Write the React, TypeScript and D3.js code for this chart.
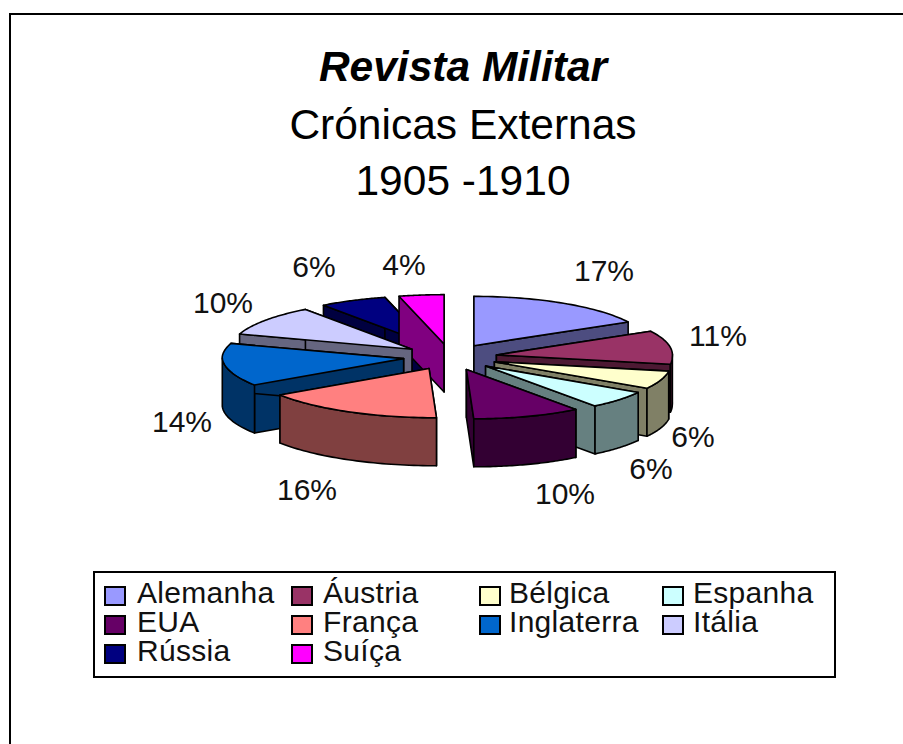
import React from "react";
import * as d3 from "d3";

const categories = ["Alemanha", "Áustria", "Bélgica", "Espanha", "EUA", "França", "Inglaterra", "Itália", "Rússia", "Suíça"];
const values = [17, 11, 6, 6, 10, 16, 14, 10, 6, 4];
const topColors = ["#9999ff", "#993366", "#ffffcc", "#ccffff", "#660066", "#ff8080", "#0066cc", "#ccccff", "#000080", "#ff00ff"];
const sideColors = ["#4d4d80", "#4d1933", "#808066", "#668080", "#330033", "#804040", "#003366", "#666680", "#000040", "#800080"];
const labels = ["17%", "11%", "6%", "6%", "10%", "16%", "14%", "10%", "6%", "4%"];
const labelX = [604, 718, 693, 651, 565, 307, 182, 223, 314, 404];
const labelY = [281, 346, 447, 479, 504, 500, 432, 313, 277, 275];
const drawOrder = [8, 9, 7, 6, 5, 0, 1, 2, 3, 4];
const titleLines = ["Revista Militar", "Crónicas Externas", "1905 -1910"];
const legendSwatchX = [105, 292, 480, 663];
const legendTextX = [137, 323, 509, 693];
const legendBaseline = [603, 632, 661];
const legendSwatchY = [587, 616, 645];

const CX = 450, CY = 357, R = 176, K = 0.28, EXPLODE = 47, DEPTH = 48, SHEAR = 0.15, LEFT_GROW = 1.03;

const pieArcs = d3.pie<number>().sort(null)(values);
const line = d3.line<[number, number]>();

type Pt = [number, number];
const project = (cx: number, cy: number, r: number, a: number): Pt => {
  const s = Math.sin(a);
  const y = cy - K * r * Math.cos(a);
  const x = cx + r * s * (s < 0 ? LEFT_GROW : 1) + Math.max(0, y - CY) * SHEAR;
  return [x, y];
};
const down = (p: Pt): Pt => [p[0], p[1] + DEPTH];

function slice(i: number) {
  const arc = pieArcs[i];
  const mid = (arc.startAngle + arc.endAngle) / 2;
  const ox = CX + EXPLODE * Math.sin(mid);
  const oy = CY - K * EXPLODE * Math.cos(mid);
  const apex: Pt = [ox + Math.max(0, oy - CY) * SHEAR, oy];
  const angs = d3.range(0, 41).map((k) => arc.startAngle + ((arc.endAngle - arc.startAngle) * k) / 40);
  const rim = angs.map((a) => project(ox, oy, R, a));
  const first = rim[0];
  const last = rim[rim.length - 1];
  const top = line([apex, ...rim]) + "Z";
  const startWall = line([apex, first, down(first), down(apex)]) + "Z";
  const endWall = line([apex, last, down(last), down(apex)]) + "Z";
  const front = rim.filter((_, k) => Math.cos(angs[k]) <= 0.02);
  const outer = front.length > 1 ? line([...front, ...front.slice().reverse().map(down)]) + "Z" : null;
  return { top, startWall, endWall, outer };
}

const stroke = { stroke: "#000", strokeWidth: 1.6, strokeLinejoin: "round" as const };

export default function App() {
  return (
    <svg width={903} height={744} style={{ position: "absolute", left: 0, top: 0, background: "#fff" }} fontFamily="'Liberation Sans', Arial, sans-serif">
      <path d="M10,744 V14 H903" fill="none" stroke="#000" strokeWidth={2} />
      <text x={463} y={81} textAnchor="middle" fontSize={42.5} fontWeight="bold" fontStyle="italic">{titleLines[0]}</text>
      <text x={463} y={139} textAnchor="middle" fontSize={42.5}>{titleLines[1]}</text>
      <text x={463} y={195} textAnchor="middle" fontSize={42.5}>{titleLines[2]}</text>
      {drawOrder.map((i) => {
        const s = slice(i);
        return (
          <g key={categories[i]}>
            <path d={s.startWall} fill={sideColors[i]} {...stroke} />
            <path d={s.endWall} fill={sideColors[i]} {...stroke} />
            {s.outer && <path d={s.outer} fill={sideColors[i]} {...stroke} />}
            <path d={s.top} fill={topColors[i]} {...stroke} />
          </g>
        );
      })}
      {labels.map((l, i) => (
        <text key={i} x={labelX[i]} y={labelY[i]} textAnchor="middle" fontSize={30} fill="#111">{l}</text>
      ))}
      <rect x={94} y={572} width={741} height={105} fill="#fff" stroke="#000" strokeWidth={2} />
      {categories.map((c, i) => {
        const col = i % 4;
        const row = Math.floor(i / 4);
        return (
          <g key={c}>
            <rect x={legendSwatchX[col]} y={legendSwatchY[row]} width={20} height={18} fill={topColors[i]} stroke="#000" strokeWidth={2} />
            <text x={legendTextX[col]} y={legendBaseline[row]} fontSize={30} letterSpacing={0.3} fill="#111">{c}</text>
          </g>
        );
      })}
    </svg>
  );
}
